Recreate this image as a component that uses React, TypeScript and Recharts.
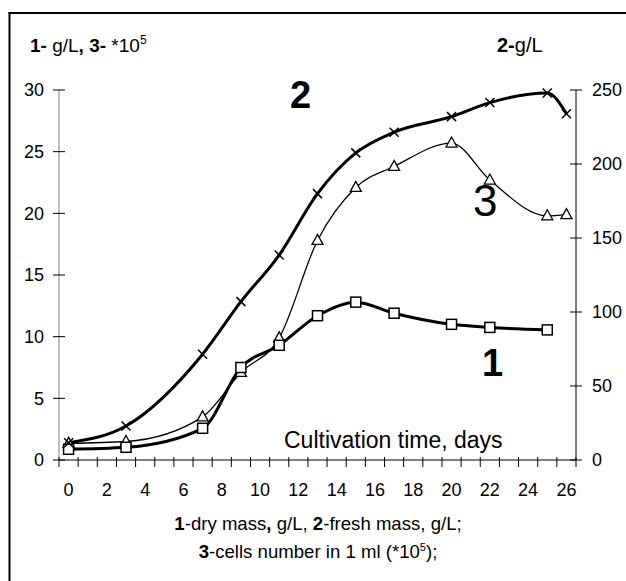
import { LineChart, Line, XAxis, YAxis } from 'recharts';

const days = [0, 3, 7, 9, 11, 13, 15, 17, 20, 22, 25, 26];
const dryMass = [0.87, 1.03, 2.57, 7.5, 9.3, 11.7, 12.8, 11.9, 11.0, 10.75, 10.55, null];
const freshMass = [11.7, 23, 71.5, 107, 138.5, 180, 207.5, 221.5, 232, 241.5, 248, 234];
const cellsNumber = [1.35, 1.5, 3.5, 7.1, 9.9, 17.8, 22.1, 23.8, 25.7, 22.7, 19.8, 19.9];

const dayLabels = [0, 2, 4, 6, 8, 10, 12, 14, 16, 18, 20, 22, 24, 26];
const leftTicks = [0, 5, 10, 15, 20, 25, 30];
const rightTicks = [0, 50, 100, 150, 200, 250];

const data = days.map((day, i) => ({
  day,
  dry: dryMass[i],
  fresh: freshMass[i],
  cells: cellsNumber[i],
}));

// tick marks sit between the days, labels on every second day
const dayBounds = Array.from({ length: 28 }, (_, i) => i - 0.5);
const xTicks = [...dayBounds, ...dayLabels].sort((a, b) => a - b);

const FONT = '"Liberation Sans", Arial, sans-serif';

function XTick(props: any) {
  const { x, y, payload } = props;
  const v = payload.value;
  if (Number.isInteger(v)) {
    return (
      <text x={x} y={y + 36} textAnchor="middle" fontSize={18} fontFamily={FONT} fill="#000">
        {v}
      </text>
    );
  }
  return <line x1={x} x2={x} y1={y - 3} y2={y + 7} stroke="#000" strokeWidth={1} />;
}

function LeftTick(props: any) {
  const { x, y, payload } = props;
  return (
    <g>
      <line x1={x - 6} x2={x + 6} y1={y} y2={y} stroke="#000" strokeWidth={1} />
      <text x={x - 15} y={y} dy="0.36em" textAnchor="end" fontSize={18} fontFamily={FONT} fill="#000">
        {payload.value}
      </text>
    </g>
  );
}

function RightTick(props: any) {
  const { x, y, payload } = props;
  return (
    <g>
      <line x1={x - 6} x2={x + 6} y1={y} y2={y} stroke="#000" strokeWidth={1} />
      <text x={x + 16} y={y} dy="0.36em" textAnchor="start" fontSize={18} fontFamily={FONT} fill="#000">
        {payload.value}
      </text>
    </g>
  );
}

function SquareDot(props: any) {
  const { cx, cy, index } = props;
  if (cx == null || cy == null) return <g key={`s${index}`} />;
  return <rect key={`s${index}`} x={cx - 5} y={cy - 5} width={10} height={10} fill="#fff" stroke="#000" strokeWidth={1.5} />;
}

function TriangleDot(props: any) {
  const { cx, cy, index } = props;
  if (cx == null || cy == null) return <g key={`t${index}`} />;
  return (
    <polygon
      key={`t${index}`}
      points={`${cx},${cy - 6} ${cx - 5.5},${cy + 4} ${cx + 5.5},${cy + 4}`}
      fill="#fff"
      stroke="#000"
      strokeWidth={1.3}
    />
  );
}

function CrossDot(props: any) {
  const { cx, cy, index } = props;
  if (cx == null || cy == null) return <g key={`c${index}`} />;
  return (
    <g key={`c${index}`} stroke="#000" strokeWidth={1.5}>
      <line x1={cx - 4.5} y1={cy - 4.5} x2={cx + 4.5} y2={cy + 4.5} />
      <line x1={cx - 4.5} y1={cy + 4.5} x2={cx + 4.5} y2={cy - 4.5} />
    </g>
  );
}

export default function App() {
  return (
    <div style={{ position: 'absolute', left: 0, top: 0, width: 626, height: 581, overflow: 'hidden', background: '#fff' }}>
      <LineChart width={626} height={581} data={data} margin={{ top: 90, right: 0, bottom: 91, left: 9 }}>
        <XAxis
          dataKey="day"
          type="number"
          domain={[-0.5, 26.5]}
          ticks={xTicks}
          interval={0}
          height={30}
          tickSize={0}
          tickMargin={0}
          tickLine={false}
          axisLine={{ stroke: '#000', strokeWidth: 1 }}
          tick={<XTick />}
        />
        <YAxis
          yAxisId="left"
          domain={[0, 30]}
          ticks={leftTicks}
          interval={0}
          width={50}
          tickSize={0}
          tickMargin={0}
          tickLine={false}
          axisLine={{ stroke: '#808080', strokeWidth: 1 }}
          tick={<LeftTick />}
        />
        <YAxis
          yAxisId="right"
          orientation="right"
          domain={[0, 250]}
          ticks={rightTicks}
          interval={0}
          width={50}
          tickSize={0}
          tickMargin={0}
          tickLine={false}
          axisLine={{ stroke: '#000', strokeWidth: 1 }}
          tick={<RightTick />}
        />
        <Line
          yAxisId="left"
          dataKey="cells"
          type="monotone"
          stroke="#000"
          strokeWidth={1.3}
          dot={TriangleDot}
          isAnimationActive={false}
        />
        <Line
          yAxisId="left"
          dataKey="dry"
          type="monotone"
          stroke="#000"
          strokeWidth={3}
          dot={SquareDot}
          isAnimationActive={false}
        />
        <Line
          yAxisId="right"
          dataKey="fresh"
          type="monotone"
          stroke="#000"
          strokeWidth={3}
          dot={CrossDot}
          isAnimationActive={false}
        />
      </LineChart>
      <svg
        width={626}
        height={581}
        style={{ position: 'absolute', left: 0, top: 0, pointerEvents: 'none' }}
        fontFamily={FONT}
        fill="#000"
      >
        <line x1={9.5} y1={12} x2={9.5} y2={581} stroke="#000" strokeWidth={2} />
        <line x1={8.5} y1={13} x2={626} y2={13} stroke="#000" strokeWidth={2} />
        <text x={30} y={52} fontSize={19}>
          <tspan fontWeight="bold">1-</tspan> g/L<tspan fontWeight="bold">,</tspan> <tspan fontWeight="bold">3-</tspan> *10
          <tspan dy={-8} fontSize={12}>5</tspan>
        </text>
        <text x={497} y={52} fontSize={20}>
          <tspan fontWeight="bold">2-</tspan>g/L
        </text>
        <text x={290} y={108} fontSize={38} fontWeight="bold">2</text>
        <text x={473} y={216} fontSize={44}>3</text>
        <text x={482} y={376} fontSize={38} fontWeight="bold">1</text>
        <text x={284} y={448} fontSize={23}>Cultivation time, days</text>
        <text x={318} y={530} fontSize={18.6} textAnchor="middle">
          <tspan fontWeight="bold">1</tspan>-dry mass<tspan fontWeight="bold">,</tspan> g/L,{' '}
          <tspan fontWeight="bold">2</tspan>-fresh mass, g/L;
        </text>
        <text x={318} y={558} fontSize={18.6} textAnchor="middle">
          <tspan fontWeight="bold">3</tspan>-cells number in 1 ml (*10
          <tspan dy={-7} fontSize={11}>5</tspan>
          <tspan dy={7}>);</tspan>
        </text>
      </svg>
    </div>
  );
}
